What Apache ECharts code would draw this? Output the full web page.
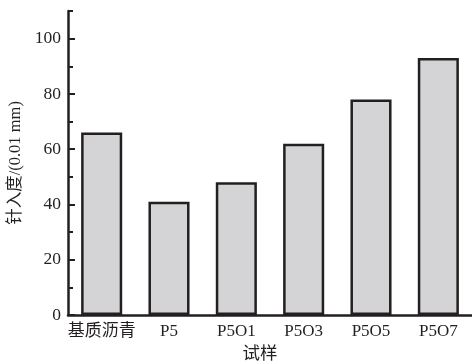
<!DOCTYPE html>
<html>
<head>
<meta charset="utf-8">
<script src="https://cdn.jsdelivr.net/npm/echarts@6/dist/echarts.min.js"></script>
<style>
  html, body { margin: 0; padding: 0; background: #fff; }
  #chart { width: 472px; height: 364px; }
</style>
</head>
<body>
<div id="chart"></div>
<script>
// Penetration of each sample
const categories = ['基质沥青', 'P5', 'P5O1', 'P5O3', 'P5O5', 'P5O7'];
const penetration = [66, 41, 48, 62, 78, 93];
const majorTicks = [0, 20, 40, 60, 80, 100];
const minorTicks = [10, 30, 50, 70, 90, 110];

const ink = '#231f20';
const serif = '"Liberation Serif", "Noto Sans CJK SC", serif';

const chart = echarts.init(document.getElementById('chart'));
chart.setOption({
  animation: false,
  grid: { left: 68, right: 0, top: 11, bottom: 49, containLabel: false, outerBoundsMode: 'none' },
  xAxis: {
    type: 'category',
    data: categories,
    name: '试样',
    nameLocation: 'middle',
    nameGap: 31,
    nameTextStyle: { fontFamily: serif, fontSize: 17.5, color: ink, padding: [0, 20, 0, 0] },
    axisLine: { lineStyle: { color: ink, width: 2.5 } },
    axisTick: { show: false },
    axisLabel: { fontFamily: serif, fontSize: 17, color: ink, margin: 8, interval: 0 }
  },
  yAxis: [
    {
      type: 'value',
      min: 0,
      max: 110,
      name: '针入度/(0.01 mm)',
      nameLocation: 'middle',
      nameGap: 44,
      nameTextStyle: { fontFamily: serif, fontSize: 16.5, color: ink },
      axisLine: { show: true, lineStyle: { color: ink, width: 2.5 } },
      axisTick: { show: true, inside: true, length: 7, lineStyle: { color: ink, width: 2 }, customValues: majorTicks },
      axisLabel: { fontFamily: serif, fontSize: 17.5, color: ink, margin: 7, customValues: majorTicks },
      splitLine: { show: false }
    },
    {
      type: 'value',
      min: 0,
      max: 110,
      position: 'left',
      axisLine: { show: false },
      axisTick: { show: true, inside: true, length: 5, lineStyle: { color: ink, width: 2 }, customValues: minorTicks },
      axisLabel: { show: false },
      splitLine: { show: false }
    }
  ],
  series: [{
    type: 'bar',
    data: penetration,
    barWidth: '61%',
    itemStyle: { color: '#d4d4d6', borderColor: ink, borderWidth: 2.5 }
  }]
});
</script>
</body>
</html>
